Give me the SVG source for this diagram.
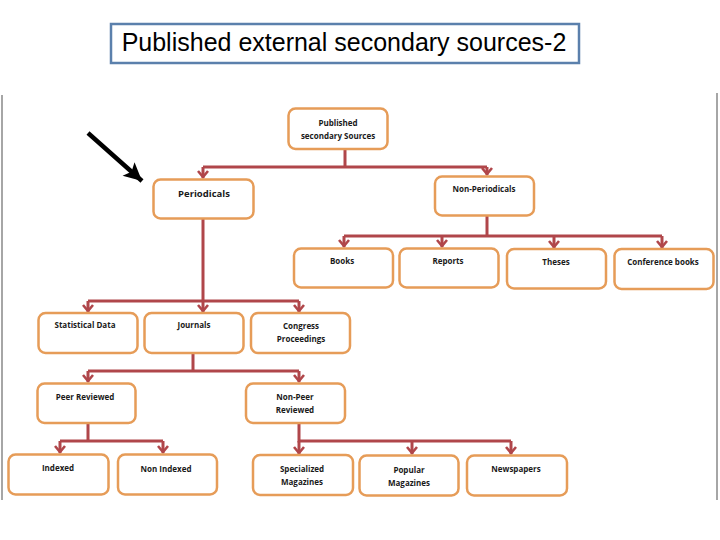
<svg xmlns="http://www.w3.org/2000/svg" width="720" height="540" viewBox="0 0 720 540">
<defs>
<style>
.box{fill:#fff;stroke:#E69C58;stroke-width:2.5}
.t{font-family:"Open Sans","Liberation Sans",sans-serif;font-weight:700;font-size:8px;fill:#1a1a1a;text-anchor:middle}
.c{fill:none;stroke:#B0464A;stroke-width:3;stroke-linejoin:miter}
.side{stroke:#A6A6A6;stroke-width:2}
</style>
<marker id="ah" markerUnits="userSpaceOnUse" markerWidth="14" markerHeight="12" viewBox="0 0 14 12" refX="7" refY="11" orient="0" overflow="visible">
<path d="M2,4 L7,10 L12,4" fill="none" stroke="#B0464A" stroke-width="2.6"/>
</marker>
<marker id="bk" markerUnits="userSpaceOnUse" markerWidth="22" markerHeight="22" viewBox="0 0 22 22" refX="20" refY="11" orient="auto" overflow="visible">
<path d="M2,2 L20,11 L2,20 L6,11 Z" fill="#000"/>
</marker>
</defs>
<rect width="720" height="540" fill="#fff"/>
<line class="side" x1="2" y1="95" x2="2" y2="500"/>
<line class="side" x1="717" y1="93" x2="717" y2="500"/>
<g id="title">
<rect x="111" y="24" width="468" height="39" fill="#fff" stroke="#5B80AC" stroke-width="2.5"/>
<text x="344" y="51" font-family="Liberation Sans, Arial, sans-serif" font-size="25" fill="#000" text-anchor="middle">Published external secondary sources-2</text>
</g>
<g id="pointer">
<line x1="88" y1="133" x2="142" y2="181" stroke="#000" stroke-width="4.5" marker-end="url(#bk)"/>
</g>
<g id="connectors">
<path class="c" d="M345,149 V167 M203,167 H487"/>
<path class="c" d="M203,167 V178" marker-end="url(#ah)"/>
<path class="c" d="M487,167 V175" marker-end="url(#ah)"/>
<path class="c" d="M487,215 V236 M344,236 H662"/>
<path class="c" d="M344,236 V247" marker-end="url(#ah)"/>
<path class="c" d="M442,236 V247" marker-end="url(#ah)"/>
<path class="c" d="M554,236 V248" marker-end="url(#ah)"/>
<path class="c" d="M662,236 V248" marker-end="url(#ah)"/>
<path class="c" d="M203,219 V301 M88,301 H299"/>
<path class="c" d="M88,301 V312" marker-end="url(#ah)"/>
<path class="c" d="M203,301 V312" marker-end="url(#ah)"/>
<path class="c" d="M299,301 V312" marker-end="url(#ah)"/>
<path class="c" d="M193,353 V371 M88,371 H299"/>
<path class="c" d="M88,371 V382" marker-end="url(#ah)"/>
<path class="c" d="M299,371 V382" marker-end="url(#ah)"/>
<path class="c" d="M88,423 V441 M60,441 H163"/>
<path class="c" d="M60,441 V453" marker-end="url(#ah)"/>
<path class="c" d="M163,441 V453" marker-end="url(#ah)"/>
<path class="c" d="M299,423 V441 H511"/>
<path class="c" d="M299,441 V454" marker-end="url(#ah)"/>
<path class="c" d="M412,441 V454" marker-end="url(#ah)"/>
<path class="c" d="M511,441 V454" marker-end="url(#ah)"/>
</g>
<g id="n-published"><rect class="box" x="288.5" y="108.5" width="99" height="40.5" rx="7"/><text class="t" x="338" y="126">Published</text><text class="t" x="338" y="138.5">secondary Sources</text></g>
<g id="n-periodicals"><rect class="box" x="153.5" y="179.5" width="100" height="39" rx="7"/><text class="t" x="204" y="197" style="font-size:9.5px">Periodicals</text></g>
<g id="n-nonperiodicals"><rect class="box" x="435" y="176.5" width="99" height="39" rx="7"/><text class="t" x="484" y="192">Non-Periodicals</text></g>
<g id="n-books"><rect class="box" x="294" y="248.5" width="99" height="39" rx="7"/><text class="t" x="342" y="264">Books</text></g>
<g id="n-reports"><rect class="box" x="399.5" y="248.5" width="99" height="39" rx="7"/><text class="t" x="448" y="264">Reports</text></g>
<g id="n-theses"><rect class="box" x="507" y="249" width="99" height="39.5" rx="7"/><text class="t" x="556" y="265">Theses</text></g>
<g id="n-conference"><rect class="box" x="614.5" y="249" width="99" height="40" rx="7"/><text class="t" x="663" y="265">Conference books</text></g>
<g id="n-statistical"><rect class="box" x="38.5" y="313" width="99" height="40" rx="7"/><text class="t" x="85" y="328">Statistical Data</text></g>
<g id="n-journals"><rect class="box" x="144.5" y="313" width="99" height="40" rx="7"/><text class="t" x="194" y="328">Journals</text></g>
<g id="n-congress"><rect class="box" x="251" y="313" width="99" height="40" rx="7"/><text class="t" x="301" y="329">Congress</text><text class="t" x="301" y="342">Proceedings</text></g>
<g id="n-peer"><rect class="box" x="37.5" y="383.5" width="98" height="39.5" rx="7"/><text class="t" x="85" y="400">Peer Reviewed</text></g>
<g id="n-nonpeer"><rect class="box" x="246" y="383.5" width="99" height="39.5" rx="7"/><text class="t" x="295" y="400">Non-Peer</text><text class="t" x="295" y="413">Reviewed</text></g>
<g id="n-indexed"><rect class="box" x="8.5" y="454.5" width="100" height="40" rx="7"/><text class="t" x="58" y="471">Indexed</text></g>
<g id="n-nonindexed"><rect class="box" x="118" y="454.5" width="99" height="40" rx="7"/><text class="t" x="166" y="472">Non Indexed</text></g>
<g id="n-specialized"><rect class="box" x="253" y="455" width="100" height="40" rx="7"/><text class="t" x="302" y="472">Specialized</text><text class="t" x="302" y="485">Magazines</text></g>
<g id="n-popular"><rect class="box" x="359.5" y="455.5" width="99" height="40" rx="7"/><text class="t" x="409" y="473">Popular</text><text class="t" x="409" y="486">Magazines</text></g>
<g id="n-newspapers"><rect class="box" x="467" y="455.5" width="100" height="40" rx="7"/><text class="t" x="516" y="472">Newspapers</text></g>
</svg>
